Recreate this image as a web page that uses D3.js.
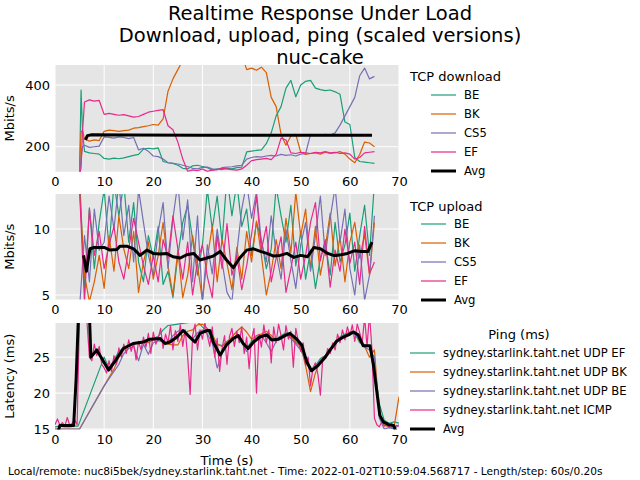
<!DOCTYPE html>
<html>
<head>
<meta charset="utf-8">
<script src="https://cdnjs.cloudflare.com/ajax/libs/d3/7.8.5/d3.min.js"></script>
<style>
  body { margin: 0; background: #fff; }
  svg { font-family: "DejaVu Sans", sans-serif; }
</style>
</head>
<body>
<div id="chart"></div>
<script>
// ---- data ----
const seriesNames = ["BE", "BK", "CS5", "EF"];
const pingNames = ["sydney.starlink.taht.net UDP EF", "sydney.starlink.taht.net UDP BK",
  "sydney.starlink.taht.net UDP BE", "sydney.starlink.taht.net ICMP"];
const colors = ["#1b9e77", "#d95f02", "#7570b3", "#e7298a"];
const xTicks = [0, 10, 20, 30, 40, 50, 60, 70];

// TCP download (Mbits/s)
const dlTime = [5, 5.3, 5.6, 6, 7, 8, 9, 10, 11, 12, 13, 14, 15, 16, 17, 18, 19, 20, 21, 22, 23, 24, 25,
  26, 27, 28, 29, 30, 31, 32, 33, 34, 35, 36, 37, 38, 39, 40, 41, 42, 43, 44, 45, 46, 47, 48, 49, 50,
  51, 52, 53, 54, 55, 56, 57, 58, 59, 60, 61, 62, 63, 64, 65];
const dlBE = [120, 384, 250, 185, 180, 178, 176, 162, 160, 163, 161, 164, 168, 172, 175, 192, 195, 193, 196, 152, 148, 146, 140,
  130, 128, 138, 140, 136, 132, 124, 128, 126, 130, 128, 132, 134, 183, 186, 188, 190, 210, 245, 300, 330, 390, 415, 362, 400,
  412, 415, 390, 385, 382, 384, 378, 370, 280, 272, 165, 152, 150, 148, 146];
const dlBK = [130, 245, 255, 225, 218, 222, 220, 250, 254, 252, 250, 252, 254, 260, 262, 265, 268, 272, 270, 290, 380, 420, 450,
  480, 520, 520, 520, 520, 520, 520, 520, 520, 520, 520, 520, 500, 450, 455, 448, 458, 440, 360, 330, 240, 205, 235, 240, 182,
  175, 178, 180, 176, 182, 178, 180, 184, 176, 160, 148, 175, 215, 212, 200];
const dlCS5 = [115, 160, 200, 205, 198, 200, 202, 232, 230, 228, 232, 230, 226, 230, 190, 195, 185, 170, 168, 160, 148, 146, 144,
  140, 136, 130, 128, 133, 134, 128, 126, 132, 134, 135, 138, 140, 160, 165, 168, 166, 170, 172, 170, 175, 172, 174, 170, 176,
  178, 240, 238, 236, 240, 238, 245, 270, 300, 330, 360, 430, 455, 420, 428];
const dlEF = [110, 130, 250, 345, 352, 348, 350, 305, 308, 305, 302, 304, 300, 296, 298, 305, 312, 315, 318, 320, 268, 255, 215,
  160, 120, 125, 122, 128, 120, 124, 126, 130, 128, 126, 124, 128, 140, 155, 158, 160, 162, 158, 175, 228, 222, 180, 178, 182,
  180, 178, 182, 180, 184, 180, 182, 178, 180, 176, 160, 165, 180, 182, 184];
const dlAvg = [[6.2, 222], [6.6, 236], [7.5, 239], [15, 238], [30, 237], [45, 237], [60, 237], [64.5, 237]];

// TCP upload (Mbits/s)
const ulTime = [5, 6, 7, 8, 9, 10, 11, 12, 13, 14, 15, 16, 17, 18, 19, 20, 21, 22, 23, 24, 25, 26, 27, 28, 29, 30,
  31, 32, 33, 34, 35, 36, 37, 38, 39, 40, 41, 42, 43, 44, 45, 46, 47, 48, 49, 50, 51, 52, 53, 54, 55, 56, 57, 58, 59, 60,
  61, 62, 63, 64, 65];
const ulBE = [14, 5.5, 11.6, 7.0, 10.5, 13, 8.5, 13.5, 11.0, 13.5, 9.0, 12.0, 7.5, 6.0, 9.5, 7.8, 10.2, 5.8, 6.8, 4.8, 8.0, 10.5, 11.8, 9.2, 6.5, 8.8,
  13, 10.0, 12.5, 9.0, 14, 11.0, 13.5, 10.2, 11.5, 8.0, 10.5, 9.2, 7.0, 8.5, 13.2, 11.0, 9.0, 11.8, 7.2, 9.8, 6.2, 8.4, 5.5, 7.8, 9.0, 6.5, 10.5, 7.5, 8.8, 11.2,
  6.8, 9.5, 11.8, 8.0, 13.5];
const ulBK = [13, 6.5, 4.5, 6.0, 8.0, 5.5, 9.5, 6.8, 11.0, 8.5, 7.0, 9.8, 5.2, 7.5, 9.0, 6.2, 8.0, 10.5, 7.2, 5.0, 8.4, 4.8, 6.5, 9.5, 7.2, 4.6,
  7.8, 10.2, 6.0, 9.2, 7.4, 5.4, 8.6, 6.2, 9.8, 7.5, 10.6, 8.0, 5.0, 6.8, 9.2, 7.0, 10.8, 8.2, 12.8, 9.5, 11.5, 7.0, 10.2, 6.5, 8.6, 11.2, 7.2, 9.4, 6.0, 9.0,
  10.5, 7.8, 9.6, 6.5, 10.5];
const ulCS5 = [4.0, 9.5, 6.0, 11.5, 8.4, 9.0, 12.5, 10.0, 13.5, 9.5, 11.8, 7.5, 13.0, 10.5, 8.0, 6.5, 9.8, 12.0, 7.0, 10.8, 13.5, 9.2, 12.2, 6.0, 11.0, 4.5,
  8.8, 6.6, 10.0, 7.5, 5.2, 4.5, 8.2, 11.5, 13.5, 10.8, 12.8, 9.0, 7.5, 11.0, 8.2, 6.2, 10.0, 7.6, 5.5, 8.8, 10.5, 6.8, 9.5, 12.5, 8.0, 10.8, 13.2, 9.0, 11.5, 7.0,
  5.0, 8.8, 4.6, 6.5, 11.0];
const ulEF = [13, 4.5, 11.5, 8.0, 9.8, 7.0, 8.8, 10.2, 7.5, 6.2, 8.5, 10.8, 9.0, 7.2, 5.8, 8.0, 6.0, 9.2, 7.8, 11.0, 8.5, 6.2, 9.0, 5.0, 7.6, 8.8,
  6.4, 4.8, 9.5, 7.0, 10.4, 6.5, 8.0, 5.4, 7.2, 9.6, 12.5, 8.4, 10.2, 6.0, 7.8, 9.4, 5.2, 7.0, 9.0, 6.2, 8.0, 10.5, 12.0, 7.6, 9.2, 5.6, 8.4, 6.8, 10.0, 7.4,
  9.0, 5.8, 10.2, 6.6, 7.5];
const ulAvg = [[5.8, 8.0], [6.4, 6.8], [7.1, 8.5], [8, 8.6], [10, 8.6], [11.2, 8.4], [12.6, 8.45], [13.2, 8.7], [14.6, 8.7],
  [16, 8.5], [17.3, 8.0], [18.7, 8.4], [20, 8.15], [21.4, 8.1], [22.7, 8.15], [24, 7.9], [25.5, 7.8], [26.8, 8.05],
  [28.2, 8.15], [29.5, 7.65], [30.9, 7.8], [32.2, 7.95], [33.6, 8.3], [34.9, 7.65], [36.3, 7.07], [37.6, 7.8], [39, 8.4],
  [40.4, 8.5], [41.8, 8.3], [43.1, 8.15], [44.5, 7.95], [45.8, 8.0], [47.2, 8.15], [48.6, 7.85], [50, 8.0], [51.4, 7.9],
  [52.7, 8.6], [54, 8.5], [55.5, 8.15], [56.8, 7.98], [58.2, 8.05], [59.5, 8.15], [60.9, 8.35], [62.3, 8.3], [63.7, 8.3], [64.5, 9.0]];

// Ping (ms)
const udpTime = [0, 1, 2, 3, 4, 5, 10, 11, 12, 13, 14, 15, 16, 17, 18, 19, 20, 21, 22, 23, 24, 25, 26, 27, 28, 29, 30,
  31, 32, 33, 34, 35, 36, 37, 38, 39, 40, 41, 42, 43, 44, 45, 46, 47, 48, 49, 50, 51, 52, 53, 54, 55, 56, 57, 58, 59, 60,
  61, 62, 63, 64, 65, 66, 67, 68, 69, 70];
const udpEF = [15.3, 15.4, 15.3, 15.3, 15.4, 15.4, 25.0, 23.5, 24.6, 25.8, 26.3, 26.6, 26.9, 27.0, 27.2, 27.5, 27.6, 27.9, 28.8, 29.4, 29.5, 29.6, 29.7, 29.8, 29.9, 29.9, 29.2,
  28.6, 27.8, 26.8, 26.6, 27.2, 27.6, 28.0, 27.0, 26.2, 27.2, 27.8, 28.0, 28.2, 27.4, 27.5, 28.0, 28.4, 28.0, 27.2, 26.5, 24.5, 23.2, 23.8, 24.8, 25.2, 26.2, 27.2, 27.8, 28.2, 28.5,
  28.3, 27.0, 26.7, 26.5, 24.0, 18.5, 16.2, 15.8, 16.0, 15.8];
const udpBK = [15.0, 15.0, 15.0, 15.0, 15.0, 15.0, 21.0, 22.2, 23.3, 25.0, 26.0, 26.5, 26.8, 27.0, 27.2, 27.0, 27.4, 27.5, 27.3, 26.8, 26.7, 26.7, 28.0, 28.6, 28.8, 29.5, 29.6,
  29.0, 28.2, 26.8, 26.5, 27.0, 27.8, 28.6, 29.2, 28.5, 27.5, 28.0, 28.2, 28.6, 28.0, 27.4, 27.6, 28.2, 27.8, 27.0, 26.5, 23.8, 20.2, 22.8, 24.5, 25.0, 26.0, 27.0, 27.6, 28.0, 28.4,
  28.6, 27.2, 26.5, 25.0, 26.0, 17.0, 15.6, 15.2, 15.3, 19.5];
const udpBE = [15.0, 15.0, 15.0, 15.0, 15.0, 15.0, 21.0, 22.0, 23.0, 24.0, 25.5, 26.2, 26.5, 24.5, 26.8, 25.4, 27.0, 27.3, 27.1, 27.0, 28.0, 28.6, 28.8, 28.2, 27.5, 28.4, 28.8,
  28.2, 27.0, 23.5, 25.5, 26.8, 27.4, 27.9, 27.0, 25.8, 26.6, 27.6, 28.0, 27.0, 25.8, 27.2, 27.8, 28.2, 27.6, 26.8, 26.0, 24.6, 23.0, 23.5, 24.6, 25.2, 26.0, 27.0, 27.6, 28.0, 28.3,
  28.2, 27.4, 26.4, 26.0, 25.0, 16.5, 15.0, 15.2, 15.0, 15.6];
const icmpTime = [0, 0.5, 1, 1.5, 2, 2.5, 3, 3.5, 4, 4.5, 5, 5.5, 6, 6.5, 7, 7.5, 8, 8.5, 9, 9.5,
  10, 10.5, 11, 11.5, 12, 12.5, 13, 13.5, 14, 14.5, 15, 15.5, 16, 16.5, 17, 17.5, 18, 18.5, 19, 19.5,
  20, 20.5, 21, 21.5, 22, 22.5, 23, 23.5, 24, 24.5, 25, 25.5, 26, 26.5, 27, 27.5, 28, 28.5, 29, 29.5,
  30, 30.5, 31, 31.5, 32, 32.5, 33, 33.5, 34, 34.5, 35, 35.5, 36, 36.5, 37, 37.5, 38, 38.5, 39, 39.5,
  40, 40.5, 41, 41.5, 42, 42.5, 43, 43.5, 44, 44.5, 45, 45.5, 46, 46.5, 47, 47.5, 48, 48.5, 49, 49.5,
  50, 50.5, 51, 51.5, 52, 52.5, 53, 53.5, 54, 54.5, 55, 55.5, 56, 56.5, 57, 57.5, 58, 58.5, 59, 59.5,
  60, 60.5, 61, 61.5, 62, 62.5, 63, 63.5, 64, 64.5, 65, 65.5, 66, 66.5, 67, 67.5, 68, 68.5, 69, 69.5, 70];
const icmp = [15.6, 16.4, 15.5, 15.9, 15.4, 16.6, 15.5, 15.8, 16.3, 15.6,
  31, 33, 32, 30, 25.0, 24.5, 26.8, 25.2, 26.5, 24.0,
  23.5, 22.8, 24.5, 23.0, 25.2, 24.0, 26.3, 25.0, 26.8, 25.5,
  27.4, 25.8, 27.0, 24.6, 27.2, 26.0, 27.8, 26.4, 28.3, 25.5,
  28.5, 26.8, 27.6, 29.0, 26.2, 28.2, 27.0, 29.4, 26.0, 28.7,
  27.2, 29.5, 26.5, 28.8, 25.0, 19.8, 28.0, 29.6, 26.0, 28.8,
  27.5, 29.8, 28.0, 26.5, 29.2, 25.0, 27.6, 23.0, 26.2, 28.0,
  24.0, 27.8, 29.0, 26.5, 28.6, 27.0, 29.2, 25.5, 27.8, 23.4,
  27.5, 29.0, 20.0, 28.2, 26.4, 29.5, 27.0, 28.8, 24.2, 29.2,
  27.0, 29.6, 28.0, 26.0, 29.4, 27.5, 28.6, 23.6, 29.0, 27.2,
  25.8, 27.0, 23.8, 25.0, 21.0, 23.5, 24.2, 22.6, 19.7, 25.0,
  24.8, 26.2, 25.5, 27.0, 26.0, 28.2, 27.0, 28.8, 27.4, 29.2,
  28.0, 29.5, 27.2, 29.6, 28.4, 27.0, 30.5, 26.5, 31.0, 26.0,
  16.5, 15.6, 15.3, 16.0, 15.4, 15.6, 15.3, 15.8, 15.2, 15.5, 15.4];
const pingAvg = [[0.7, 14.8], [1, 15.5], [3.8, 15.5], [4.3, 22], [5.0, 35], [6.8, 35], [7.3, 25.0], [8.5, 26.0],
  [10.9, 23.2], [12.2, 24.4], [13.9, 26.2], [15.9, 26.9], [18, 27.1], [19.3, 27.5], [21.4, 27.6], [22.4, 26.9],
  [23.4, 27.1], [24.8, 27.8], [26.1, 28.7], [27.1, 28.0], [28.5, 27.1], [29.5, 28.3], [30.9, 28.7], [31.5, 28.7],
  [32.2, 27.1], [33.6, 25.3], [34.9, 26.7], [36.3, 27.6], [37.3, 28.0], [38.3, 26.9], [39.3, 26.2], [40.4, 27.1],
  [41.7, 27.8], [43.1, 28.1], [44.1, 27.4], [45.5, 27.5], [46.8, 28.0], [47.8, 28.3], [49.2, 27.5], [50.2, 26.7],
  [51.2, 24.4], [52.2, 23.1], [53.6, 23.9], [54.9, 24.9], [56, 26.0], [57.3, 27.2], [58.7, 27.8], [59.7, 28.1],
  [60.7, 28.5], [61.7, 28.1], [62.7, 26.6], [64.1, 26.6], [64.8, 23.9], [66.1, 16.9], [66.8, 16.0], [67.9, 15.6],
  [68.9, 15.5], [69.3, 14.8]];

// ---- layout ----
const width = 640, height = 480;
const plotLeft = 55, plotRight = 399;

const svg = d3.select("#chart").append("svg")
  .attr("width", width).attr("height", height);

const x = d3.scaleLinear().domain([0, 70]).range([plotLeft, plotRight]);

const zip = (ts, vs) => ts.map((t, i) => [t, vs[i]]);

function drawPanel(id, top, bottom, domain, yTicks, yLabel, lines, legend) {
  const y = d3.scaleLinear().domain(domain).range([bottom, top]);
  const g = svg.append("g");

  g.append("rect")
    .attr("x", plotLeft).attr("y", top)
    .attr("width", plotRight - plotLeft).attr("height", bottom - top)
    .attr("fill", "#e5e5e5");

  // grid
  g.selectAll(".vg").data(xTicks).enter().append("line")
    .attr("x1", d => x(d)).attr("x2", d => x(d))
    .attr("y1", top).attr("y2", bottom)
    .attr("stroke", "#fff").attr("stroke-width", 1);
  g.selectAll(".hg").data(yTicks).enter().append("line")
    .attr("x1", plotLeft).attr("x2", plotRight)
    .attr("y1", d => y(d)).attr("y2", d => y(d))
    .attr("stroke", "#fff").attr("stroke-width", 1);

  // axes
  const xa = g.append("g")
    .attr("transform", `translate(0,${bottom})`)
    .call(d3.axisBottom(x).tickValues(xTicks).tickSize(0).tickPadding(5));
  const ya = g.append("g")
    .attr("transform", `translate(${plotLeft},0)`)
    .call(d3.axisLeft(y).tickValues(yTicks).tickSize(0).tickPadding(5));
  [xa, ya].forEach(a => {
    a.select(".domain").remove();
    a.selectAll("text").attr("font-size", 13).attr("fill", "#000")
      .attr("font-family", "DejaVu Sans");
  });

  g.append("text")
    .attr("transform", `translate(14,${(top + bottom) / 2}) rotate(-90)`)
    .attr("text-anchor", "middle")
    .attr("font-size", 13)
    .text(yLabel);

  // clip
  svg.append("clipPath").attr("id", "clip-" + id)
    .append("rect")
    .attr("x", plotLeft).attr("y", top)
    .attr("width", plotRight - plotLeft).attr("height", bottom - top);

  const line = d3.line().x(d => x(d[0])).y(d => y(d[1]));
  const lg = g.append("g").attr("clip-path", `url(#clip-${id})`);
  lines.forEach(l => {
    lg.append("path")
      .datum(l.data)
      .attr("fill", "none")
      .attr("stroke", l.color)
      .attr("stroke-width", l.width)
      .attr("stroke-linejoin", "round")
      .attr("d", line);
  });

  // legend
  const leg = svg.append("g");
  leg.append("text")
    .attr("x", legend.titleX).attr("y", legend.titleY)
    .attr("text-anchor", legend.titleAnchor)
    .attr("font-size", 13)
    .text(legend.title);
  lines.forEach((l, i) => {
    const yy = legend.y0 + i * 19;
    leg.append("line")
      .attr("x1", legend.lineX).attr("x2", legend.lineX + 25)
      .attr("y1", yy).attr("y2", yy)
      .attr("stroke", l.color).attr("stroke-width", l.width);
    leg.append("text")
      .attr("x", legend.lineX + 33).attr("y", yy + 4)
      .attr("font-size", 11.6)
      .text(l.name);
  });
}

const dlLines = [dlBE, dlBK, dlCS5, dlEF].map((v, i) =>
  ({ name: seriesNames[i], color: colors[i], width: 1.2, data: zip(dlTime, v) }));
dlLines.push({ name: "Avg", color: "#000", width: 3, data: dlAvg });

const ulLines = [ulBE, ulBK, ulCS5, ulEF].map((v, i) =>
  ({ name: seriesNames[i], color: colors[i], width: 1.2, data: zip(ulTime, v) }));
ulLines.push({ name: "Avg", color: "#000", width: 3, data: ulAvg });

const pingLines = [
  { name: pingNames[0], color: colors[0], width: 1.2, data: zip(udpTime, udpEF).filter(d => d[0] <= 5 || d[0] >= 10).map(d => d[0] === 5 ? [4.7, d[1]] : d) },
  { name: pingNames[1], color: colors[1], width: 1.2, data: zip(udpTime, udpBK) },
  { name: pingNames[2], color: colors[2], width: 1.2, data: zip(udpTime, udpBE) },
  { name: pingNames[3], color: colors[3], width: 1.2, data: zip(icmpTime, icmp) },
  { name: "Avg", color: "#000", width: 3, data: pingAvg }
];

drawPanel("dl", 65, 171.7, [119, 465], [200, 400], "Mbits/s", dlLines,
  { title: "TCP download", titleX: 410, titleY: 81, titleAnchor: "start", lineX: 431, y0: 95 });
drawPanel("ul", 194, 299.5, [4.66, 12.65], [5, 10], "Mbits/s", ulLines,
  { title: "TCP upload", titleX: 410, titleY: 211, titleAnchor: "start", lineX: 421, y0: 224 });
drawPanel("ping", 323, 429.5, [14.93, 29.75], [15, 20, 25], "Latency (ms)", pingLines,
  { title: "Ping (ms)", titleX: 519, titleY: 339, titleAnchor: "middle", lineX: 410, y0: 353 });

// titles
const titles = ["Realtime Response Under Load", "Download, upload, ping (scaled versions)", "nuc-cake"];
titles.forEach((t, i) => {
  svg.append("text")
    .attr("x", 320).attr("y", 20 + i * 22)
    .attr("text-anchor", "middle")
    .attr("font-size", 19.5)
    .text(t);
});

svg.append("text")
  .attr("x", (plotLeft + plotRight) / 2).attr("y", 465)
  .attr("text-anchor", "middle")
  .attr("font-size", 13)
  .text("Time (s)");

svg.append("text")
  .attr("x", 8).attr("y", 475)
  .attr("font-size", 10.6)
  .text("Local/remote: nuc8i5bek/sydney.starlink.taht.net - Time: 2022-01-02T10:59:04.568717 - Length/step: 60s/0.20s");
</script>
</body>
</html>
